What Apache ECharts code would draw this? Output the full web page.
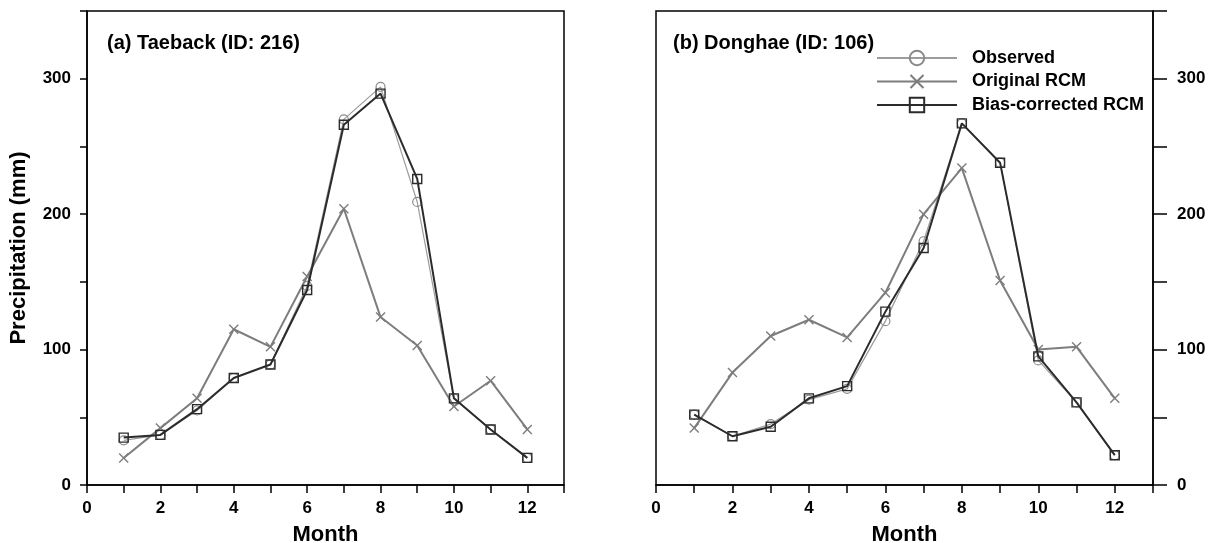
<!DOCTYPE html>
<html>
<head>
<meta charset="utf-8">
<script src="https://cdn.jsdelivr.net/npm/echarts@6/dist/echarts.min.js"></script>
<style>html,body{margin:0;padding:0;background:#fff}#c{width:1216px;height:543px}</style>
</head>
<body>
<div id="c"></div>
<script>
const months = [1, 2, 3, 4, 5, 6, 7, 8, 9, 10, 11, 12];
const seriesNames = ['Observed', 'Original RCM', 'Bias-corrected RCM'];
const panelTitles = ['(a) Taeback (ID: 216)', '(b) Donghae (ID: 106)'];
const taebackObserved  = [33, 37, 55, 79, 89, 147, 270, 294, 209, 64, 41, 20];
const taebackOriginal  = [20, 42, 64, 115, 102, 154, 204, 124, 103, 58, 77, 41];
const taebackCorrected = [35, 37, 56, 79, 89, 144, 266, 289, 226, 64, 41, 20];
const donghaeObserved  = [52, 36, 45, 63, 71, 121, 180, 267, 238, 92, 61, 22];
const donghaeOriginal  = [42, 83, 110, 122, 109, 142, 200, 234, 151, 100, 102, 64];
const donghaeCorrected = [52, 36, 43, 64, 73, 128, 175, 267, 238, 95, 61, 22];
const xTickLabels = [0, 2, 4, 6, 8, 10, 12];
const yTickLabels = [0, 100, 200, 300];

const FONT = '"Liberation Sans", Arial, sans-serif';
const crossPath = 'path://M0,1 L1,0 L5,4 L9,0 L10,1 L6,5 L10,9 L9,10 L5,6 L1,10 L0,9 L4,5 Z';

function pairs(vals) { return months.map((m, i) => [m, vals[i]]); }

const styles = [
  { symbol: 'circle', symbolSize: 9, lineColor: '#9c9c9c', lineWidth: 1.2,
    item: { color: 'rgba(255,255,255,0)', borderColor: '#8a8a8a', borderWidth: 1.2 } },
  { symbol: crossPath, symbolSize: 10, lineColor: '#7d7d7d', lineWidth: 2,
    item: { color: '#7d7d7d', borderWidth: 0 } },
  { symbol: 'rect', symbolSize: 9, lineColor: '#2b2b2b', lineWidth: 2,
    item: { color: 'rgba(255,255,255,0)', borderColor: '#2b2b2b', borderWidth: 1.4 } }
];

function mkSeries(idx, gridIdx, vals) {
  const s = styles[idx];
  return {
    name: seriesNames[idx], type: 'line', xAxisIndex: gridIdx, yAxisIndex: gridIdx,
    data: pairs(vals), symbol: s.symbol, symbolSize: s.symbolSize, showAllSymbol: true,
    lineStyle: { color: s.lineColor, width: s.lineWidth },
    itemStyle: s.item, animation: false, z: 2 + idx
  };
}

function xAxis(gridIdx) {
  return {
    type: 'value', gridIndex: gridIdx, min: 0, max: 13, interval: 1,
    name: 'Month', nameLocation: 'middle', nameGap: 39,
    nameTextStyle: { fontFamily: FONT, fontSize: 22, fontWeight: 'bold', color: '#000' },
    axisLine: { show: true, onZero: false, lineStyle: { color: '#000', width: 1.5 } },
    axisTick: { show: true, length: 8, lineStyle: { color: '#000', width: 1.5 } },
    axisLabel: { margin: 15, fontFamily: FONT, fontSize: 17, fontWeight: 'bold', color: '#000',
      formatter: v => xTickLabels.includes(v) ? String(v) : '' },
    splitLine: { show: false }
  };
}

function yAxis(gridIdx, right) {
  const a = {
    type: 'value', gridIndex: gridIdx, min: 0, max: 350, interval: 50,
    position: right ? 'right' : 'left',
    axisLine: { show: true, onZero: false, lineStyle: { color: '#000', width: 1.5 } },
    axisTick: { show: true, length: right ? 14 : 7, lineStyle: { color: '#000', width: 1.5 } },
    axisLabel: { margin: right ? 24 : 16, fontFamily: FONT, fontSize: 17, fontWeight: 'bold', color: '#000',
      formatter: v => yTickLabels.includes(v) ? String(v) : '' },
    splitLine: { show: false }
  };
  if (!right) {
    a.name = 'Precipitation (mm)';
    a.nameLocation = 'middle';
    a.nameGap = 57;
    a.nameTextStyle = { fontFamily: FONT, fontSize: 22, fontWeight: 'bold', color: '#000' };
  }
  return a;
}

const chart = echarts.init(document.getElementById('c'), null, { renderer: 'canvas' });
chart.setOption({
  backgroundColor: '#fff',
  animation: false,
  title: [
    { text: panelTitles[0], left: 107, top: 33, padding: 0,
      textStyle: { fontFamily: FONT, fontSize: 20, fontWeight: 'bold', color: '#000' } },
    { text: panelTitles[1], left: 673, top: 33, padding: 0,
      textStyle: { fontFamily: FONT, fontSize: 20, fontWeight: 'bold', color: '#000' } }
  ],
  legend: {
    data: seriesNames, orient: 'vertical', left: 876, top: 49, padding: 0,
    itemWidth: 80, itemHeight: 18, itemGap: 5.5, selectedMode: false,
    textStyle: { fontFamily: FONT, fontSize: 18, fontWeight: 'bold', color: '#000', padding: [0, 0, 0, 10] }
  },
  grid: [
    { left: 87, top: 11, width: 477, height: 474, show: true, borderColor: '#000', borderWidth: 1.5,
      backgroundColor: 'transparent', outerBoundsMode: 'none', containLabel: false },
    { left: 656, top: 11, width: 497, height: 474, show: true, borderColor: '#000', borderWidth: 1.5,
      backgroundColor: 'transparent', outerBoundsMode: 'none', containLabel: false }
  ],
  xAxis: [xAxis(0), xAxis(1)],
  yAxis: [yAxis(0, false), yAxis(1, true)],
  series: [
    mkSeries(0, 0, taebackObserved),
    mkSeries(1, 0, taebackOriginal),
    mkSeries(2, 0, taebackCorrected),
    mkSeries(0, 1, donghaeObserved),
    mkSeries(1, 1, donghaeOriginal),
    mkSeries(2, 1, donghaeCorrected)
  ]
});
</script>
</body>
</html>
